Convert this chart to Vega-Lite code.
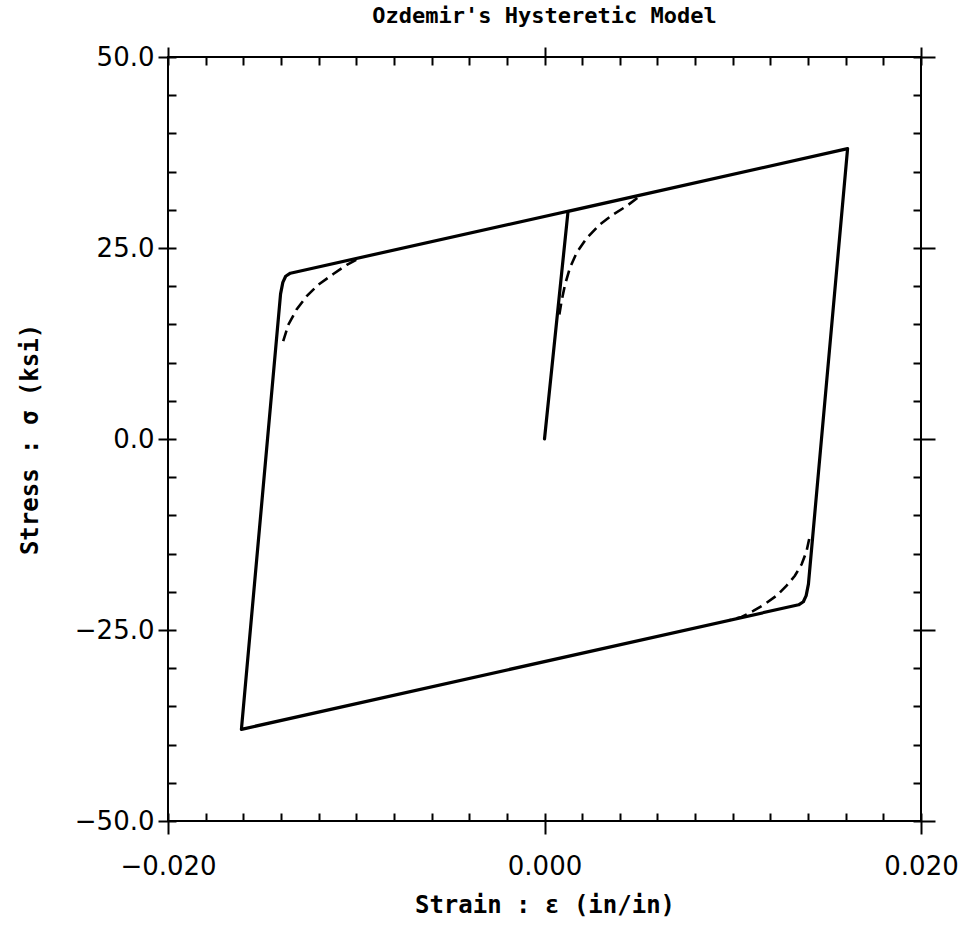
{
  "$schema": "https://vega.github.io/schema/vega-lite/v6.json",
  "width": 753,
  "height": 764,
  "autosize": {"type": "none"},
  "padding": {"left": 168, "top": 57, "right": 43, "bottom": 112},
  "background": "white",
  "title": {
    "text": "Ozdemir's Hysteretic Model",
    "font": "DejaVu Sans Mono",
    "fontWeight": "bold",
    "fontSize": 22,
    "color": "black",
    "anchor": "middle",
    "frame": "group",
    "offset": 16
  },
  "config": {
    "view": {"stroke": "black", "strokeWidth": 2},
    "axis": {"grid": false, "domain": false, "tickColor": "black", "tickWidth": 2, "labelColor": "black", "titleColor": "black", "labelFlush": false, "labelOverlap": false, "labelBound": false}
  },
  "datasets": {
    "curves": [
      {"series": "loop", "style": "solid", "order": 0, "strain": 0.0, "stress": 0.0},
      {"series": "loop", "style": "solid", "order": 1, "strain": 0.00125, "stress": 29.8},
      {"series": "loop", "style": "solid", "order": 2, "strain": 0.0161, "stress": 38.0},
      {"series": "loop", "style": "solid", "order": 3, "strain": 0.01402, "stress": -19.0},
      {"series": "loop", "style": "solid", "order": 4, "strain": 0.0139, "stress": -20.5},
      {"series": "loop", "style": "solid", "order": 5, "strain": 0.01375, "stress": -21.3},
      {"series": "loop", "style": "solid", "order": 6, "strain": 0.0135, "stress": -21.7},
      {"series": "loop", "style": "solid", "order": 7, "strain": -0.0161, "stress": -38.0},
      {"series": "loop", "style": "solid", "order": 8, "strain": -0.01402, "stress": 19.0},
      {"series": "loop", "style": "solid", "order": 9, "strain": -0.0139, "stress": 20.5},
      {"series": "loop", "style": "solid", "order": 10, "strain": -0.01375, "stress": 21.3},
      {"series": "loop", "style": "solid", "order": 11, "strain": -0.0135, "stress": 21.7},
      {"series": "loop", "style": "solid", "order": 12, "strain": 0.0161, "stress": 38.0},

      {"series": "dashA", "style": "dashed", "order": 0, "strain": -0.01388, "stress": 12.8},
      {"series": "dashA", "style": "dashed", "order": 1, "strain": -0.0136, "stress": 15.0},
      {"series": "dashA", "style": "dashed", "order": 2, "strain": -0.01316, "stress": 17.0},
      {"series": "dashA", "style": "dashed", "order": 3, "strain": -0.01263, "stress": 18.7},
      {"series": "dashA", "style": "dashed", "order": 4, "strain": -0.01201, "stress": 20.2},
      {"series": "dashA", "style": "dashed", "order": 5, "strain": -0.01122, "stress": 21.6},
      {"series": "dashA", "style": "dashed", "order": 6, "strain": -0.0105, "stress": 22.8},
      {"series": "dashA", "style": "dashed", "order": 7, "strain": -0.00989, "stress": 23.6},

      {"series": "dashB", "style": "dashed", "order": 0, "strain": 0.00079, "stress": 16.3},
      {"series": "dashB", "style": "dashed", "order": 1, "strain": 0.00091, "stress": 18.1},
      {"series": "dashB", "style": "dashed", "order": 2, "strain": 0.00109, "stress": 20.2},
      {"series": "dashB", "style": "dashed", "order": 3, "strain": 0.00135, "stress": 22.4},
      {"series": "dashB", "style": "dashed", "order": 4, "strain": 0.00171, "stress": 24.4},
      {"series": "dashB", "style": "dashed", "order": 5, "strain": 0.00224, "stress": 26.3},
      {"series": "dashB", "style": "dashed", "order": 6, "strain": 0.00295, "stress": 28.1},
      {"series": "dashB", "style": "dashed", "order": 7, "strain": 0.00365, "stress": 29.4},
      {"series": "dashB", "style": "dashed", "order": 8, "strain": 0.00437, "stress": 30.5},
      {"series": "dashB", "style": "dashed", "order": 9, "strain": 0.00507, "stress": 31.8},

      {"series": "dashC", "style": "dashed", "order": 0, "strain": 0.01406, "stress": -13.1},
      {"series": "dashC", "style": "dashed", "order": 1, "strain": 0.01392, "stress": -14.7},
      {"series": "dashC", "style": "dashed", "order": 2, "strain": 0.01366, "stress": -16.4},
      {"series": "dashC", "style": "dashed", "order": 3, "strain": 0.0133, "stress": -17.9},
      {"series": "dashC", "style": "dashed", "order": 4, "strain": 0.01286, "stress": -19.2},
      {"series": "dashC", "style": "dashed", "order": 5, "strain": 0.01233, "stress": -20.5},
      {"series": "dashC", "style": "dashed", "order": 6, "strain": 0.01171, "stress": -21.6},
      {"series": "dashC", "style": "dashed", "order": 7, "strain": 0.01109, "stress": -22.5},
      {"series": "dashC", "style": "dashed", "order": 8, "strain": 0.01047, "stress": -23.3},
      {"series": "dashC", "style": "dashed", "order": 9, "strain": 0.00985, "stress": -23.7}
    ]
  },
  "data": {"name": "curves"},
  "resolve": {"axis": {"x": "independent", "y": "independent"}},
  "layer": [
    {
      "transform": [{"filter": "datum.style === 'solid'"}],
      "mark": {"type": "line", "color": "black", "strokeWidth": 3.2, "strokeJoin": "round", "strokeCap": "round"},
      "encoding": {
        "x": {"field": "strain", "type": "quantitative", "scale": {"domain": [-0.02, 0.02], "nice": false, "zero": false},
          "axis": {"orient": "bottom", "values": [-0.02, 0, 0.02], "format": ".3f", "tickSize": 13, "labelFont": "DejaVu Sans", "labelFontSize": 26, "labelPadding": 19,
            "title": "Strain : ε (in/in)", "titleFont": "DejaVu Sans Mono", "titleFontWeight": "bold", "titleFontSize": 24, "titlePadding": 14}},
        "y": {"field": "stress", "type": "quantitative", "scale": {"domain": [-50, 50], "nice": false, "zero": false},
          "axis": {"orient": "left", "values": [-50, -25, 0, 25, 50], "format": ".1f", "tickSize": 10, "labelFont": "DejaVu Sans", "labelFontSize": 26, "labelPadding": 4,
            "title": "Stress : σ (ksi)", "titleFont": "DejaVu Sans Mono", "titleFontWeight": "bold", "titleFontSize": 24, "titlePadding": 32}},
        "detail": {"field": "series"},
        "order": {"field": "order", "type": "quantitative"}
      }
    },
    {
      "transform": [{"filter": "datum.style === 'dashed'"}],
      "mark": {"type": "line", "color": "black", "strokeWidth": 2.6, "strokeDash": [11, 6]},
      "encoding": {
        "x": {"field": "strain", "type": "quantitative", "scale": {"domain": [-0.02, 0.02], "nice": false, "zero": false},
          "axis": {"orient": "bottom", "values": [-0.02, -0.018, -0.016, -0.014, -0.012, -0.01, -0.008, -0.006, -0.004, -0.002, 0, 0.002, 0.004, 0.006, 0.008, 0.01, 0.012, 0.014, 0.016, 0.018, 0.02], "tickSize": -8, "labels": false, "title": null}},
        "y": {"field": "stress", "type": "quantitative", "scale": {"domain": [-50, 50], "nice": false, "zero": false},
          "axis": {"orient": "left", "values": [-50, -45, -40, -35, -30, -25, -20, -15, -10, -5, 0, 5, 10, 15, 20, 25, 30, 35, 40, 45, 50], "tickSize": -8, "labels": false, "title": null}},
        "detail": {"field": "series"},
        "order": {"field": "order", "type": "quantitative"}
      }
    },
    {
      "mark": {"type": "line", "color": "black", "opacity": 0},
      "encoding": {
        "x": {"field": "strain", "type": "quantitative", "scale": {"domain": [-0.02, 0.02], "nice": false, "zero": false},
          "axis": {"orient": "top", "values": [-0.02, -0.018, -0.016, -0.014, -0.012, -0.01, -0.008, -0.006, -0.004, -0.002, 0, 0.002, 0.004, 0.006, 0.008, 0.01, 0.012, 0.014, 0.016, 0.018, 0.02], "tickSize": -8, "labels": false, "title": null}},
        "y": {"field": "stress", "type": "quantitative", "scale": {"domain": [-50, 50], "nice": false, "zero": false},
          "axis": {"orient": "right", "values": [-50, -45, -40, -35, -30, -25, -20, -15, -10, -5, 0, 5, 10, 15, 20, 25, 30, 35, 40, 45, 50], "tickSize": -8, "labels": false, "title": null}},
        "detail": {"field": "series"},
        "order": {"field": "order", "type": "quantitative"}
      }
    },
    {
      "mark": {"type": "line", "color": "black", "opacity": 0},
      "encoding": {
        "x": {"field": "strain", "type": "quantitative", "scale": {"domain": [-0.02, 0.02], "nice": false, "zero": false},
          "axis": {"orient": "top", "values": [-0.02, 0, 0.02], "tickSize": 10, "labels": false, "title": null}},
        "y": {"field": "stress", "type": "quantitative", "scale": {"domain": [-50, 50], "nice": false, "zero": false},
          "axis": {"orient": "right", "values": [-50, -25, 0, 25, 50], "tickSize": 14, "labels": false, "title": null}},
        "detail": {"field": "series"},
        "order": {"field": "order", "type": "quantitative"}
      }
    }
  ]
}
